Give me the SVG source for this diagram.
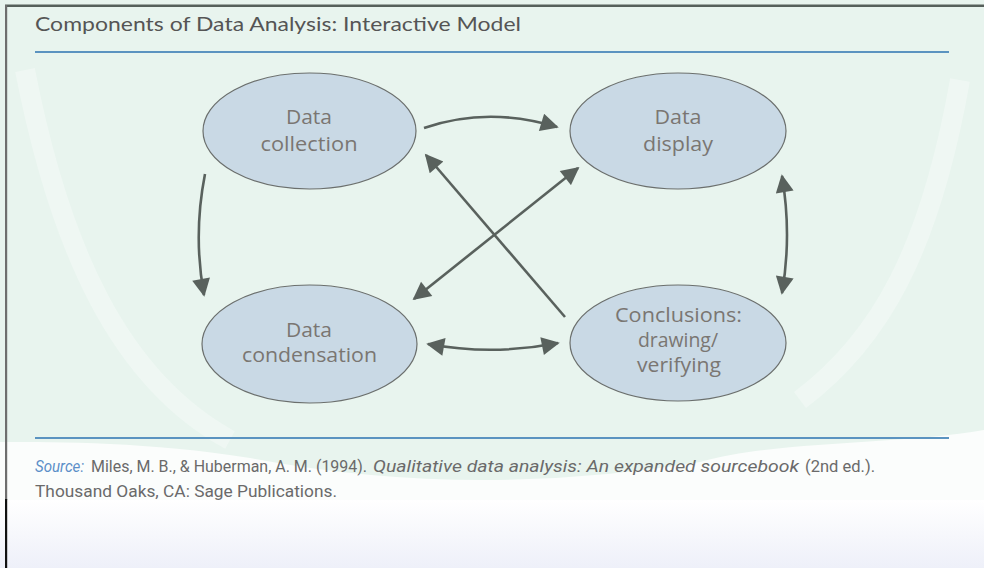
<svg xmlns="http://www.w3.org/2000/svg" width="984" height="568" viewBox="0 0 984 568">
<style>
.node ellipse{fill:#c9d9e5;stroke:#6b6f6d;stroke-width:1.2}
.lbl{font-family:"Open Sans","Liberation Sans",sans-serif;font-size:20px;fill:#7a7672;text-anchor:middle}
.conn path{fill:none;stroke:#59615d;stroke-width:2.6}
.src{font-family:Roboto,"Liberation Sans",sans-serif;font-size:17px;fill:#6a6a6a}
</style>
<defs>
<marker id="ah" viewBox="0 0 10 10" refX="9" refY="5" markerWidth="20" markerHeight="18" markerUnits="userSpaceOnUse" orient="auto-start-reverse">
<path d="M0,0 L10,5 L0,10 z" fill="#59615d"/>
</marker>
<linearGradient id="bot" x1="0" y1="0" x2="0" y2="1">
<stop offset="0" stop-color="#ffffff"/>
<stop offset="1" stop-color="#eef0f9"/>
</linearGradient>
</defs>
<rect x="0" y="0" width="984" height="568" fill="#fbfdfc"/>
<rect x="0" y="500" width="984" height="68" fill="url(#bot)"/>
<path d="M0,0 H984 V430 C900,445 780,440 700,462 Q470,500 250,458 C150,442 60,442 0,442 Z" fill="#e8f4ee"/>
<path d="M25,70 C60,250 120,380 230,440" fill="none" stroke="#ffffff" stroke-opacity="0.3" stroke-width="20"/>
<path d="M960,80 C930,250 880,340 800,400" fill="none" stroke="#ffffff" stroke-opacity="0.3" stroke-width="20"/>
<rect x="5" y="4.5" width="979" height="2.5" fill="#56605b"/>
<rect x="5" y="5" width="2.2" height="495" fill="#6e6e6e"/>
<rect x="5" y="499" width="2.2" height="69" fill="#111111"/>
<text x="35" y="31" font-family="Lato,'Open Sans',sans-serif" font-size="19" fill="#555555" textLength="486" lengthAdjust="spacingAndGlyphs">Components of Data Analysis: Interactive Model</text>
<rect x="35" y="51" width="914" height="2" fill="#5b93c0"/>
<g id="collection" class="node">
<ellipse cx="309.5" cy="131" rx="106.5" ry="58"/>
<text class="lbl" x="309" y="124" textLength="46" lengthAdjust="spacingAndGlyphs">Data</text>
<text class="lbl" x="309" y="151" textLength="97" lengthAdjust="spacingAndGlyphs">collection</text>
</g>
<g id="display" class="node">
<ellipse cx="678" cy="131" rx="108" ry="58"/>
<text class="lbl" x="678" y="124" textLength="47" lengthAdjust="spacingAndGlyphs">Data</text>
<text class="lbl" x="678" y="151" textLength="70" lengthAdjust="spacingAndGlyphs">display</text>
</g>
<g id="condensation" class="node">
<ellipse cx="309.5" cy="344" rx="107.5" ry="59"/>
<text class="lbl" x="309" y="337" textLength="46" lengthAdjust="spacingAndGlyphs">Data</text>
<text class="lbl" x="309.5" y="362" textLength="135" lengthAdjust="spacingAndGlyphs">condensation</text>
</g>
<g id="conclusions" class="node">
<ellipse cx="678" cy="343" rx="108" ry="58"/>
<text class="lbl" x="678.5" y="322" textLength="127" lengthAdjust="spacingAndGlyphs">Conclusions:</text>
<text class="lbl" x="678" y="347" textLength="80" lengthAdjust="spacingAndGlyphs">drawing/</text>
<text class="lbl" x="679" y="372" textLength="84" lengthAdjust="spacingAndGlyphs">verifying</text>
</g>
<g id="connectors" class="conn">
<path d="M424,128 Q488,106 557,127" marker-end="url(#ah)"/>
<path d="M205,174 Q193,235 204,295" marker-end="url(#ah)"/>
<path d="M782,176 Q792,235 782,293" marker-start="url(#ah)" marker-end="url(#ah)"/>
<path d="M428,344 Q493,356 558,343" marker-start="url(#ah)" marker-end="url(#ah)"/>
<path d="M565,317 L426,155" marker-end="url(#ah)"/>
<path d="M414,299 L578,168" marker-start="url(#ah)" marker-end="url(#ah)"/>
</g>
<rect x="35" y="437" width="914" height="2" fill="#5b93c0"/>
<text class="src" x="35" y="472" font-style="italic" textLength="49" lengthAdjust="spacingAndGlyphs" style="fill:#5b8fc8">Source:</text>
<text class="src" x="91" y="472" textLength="276" lengthAdjust="spacingAndGlyphs">Miles, M. B., &amp; Huberman, A. M. (1994).</text>
<text class="src" x="373" y="472" font-style="italic" textLength="426" lengthAdjust="spacingAndGlyphs">Qualitative data analysis: An expanded sourcebook</text>
<text class="src" x="805" y="472" textLength="70" lengthAdjust="spacingAndGlyphs">(2nd ed.).</text>
<text class="src" x="35" y="497" textLength="302" lengthAdjust="spacingAndGlyphs">Thousand Oaks, CA: Sage Publications.</text>
</svg>
